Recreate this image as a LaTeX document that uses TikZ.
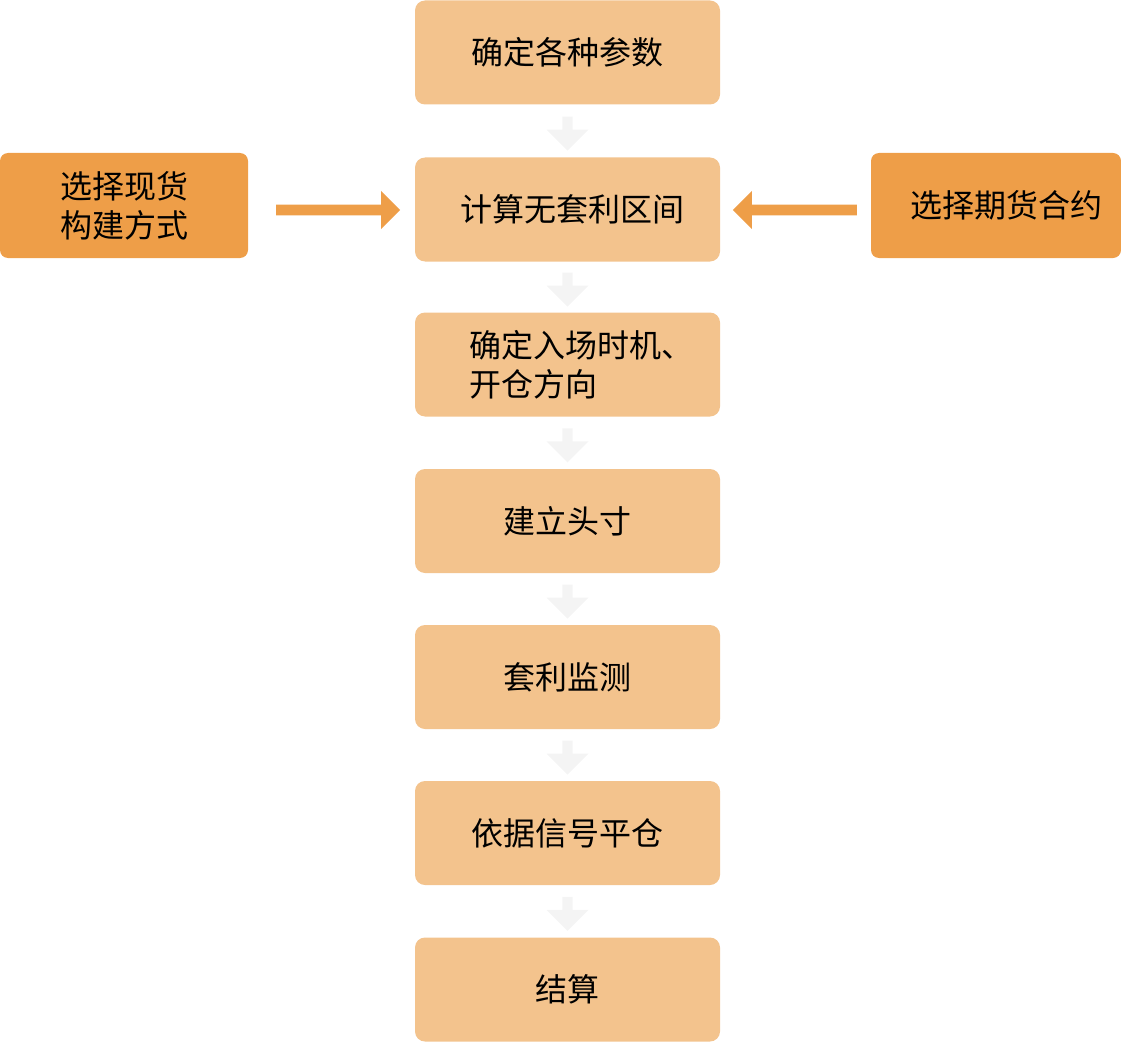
\documentclass[tikz,border=0pt]{standalone}
\usepackage{fontspec}
\newfontfamily\cjk{Noto Sans CJK SC}
\usetikzlibrary{shapes.arrows}
\definecolor{boxc}{HTML}{F3C38D}
\definecolor{sidec}{HTML}{EE9E48}
\definecolor{dnc}{HTML}{F4F4F4}
\begin{document}
\begin{tikzpicture}[x=1pt,y=-1pt,
  mbox/.style={fill=boxc,rounded corners=10pt,draw=none,minimum width=305pt,minimum height=104pt,font=\cjk\fontsize{32}{39}\selectfont,align=left},
  sbox/.style={fill=sidec,rounded corners=8pt,draw=none,minimum height=105pt,font=\cjk\fontsize{32}{39}\selectfont,align=left},
  dn/.style={fill=dnc,single arrow,draw=none,shape border rotate=270,minimum height=34pt,minimum width=42pt,single arrow head extend=10pt,inner sep=3pt},
  sa/.style={fill=sidec,single arrow,draw=none,minimum height=124pt,minimum width=38pt,single arrow head extend=11pt,inner sep=4pt}]
\useasboundingbox (0,0) rectangle (1121,1043);
\node[mbox] (b1) at (567.5,52.5) {确定各种参数};
\node[mbox] (b2) at (567.5,209.5) {\hspace*{10pt}计算无套利区间};
\node[mbox,text width=270pt,inner sep=0pt] (b3) at (567.5,364.5) {\hspace*{37pt}确定入场时机、\\\hspace*{37pt}开仓方向};
\node[mbox] (b4) at (567.5,521) {建立头寸};
\node[mbox] (b5) at (567.5,677) {套利监测};
\node[mbox] (b6) at (567.5,833) {依据信号平仓};
\node[mbox] (b7) at (567.5,989.5) {结算};
\node[sbox,minimum width=248pt] (l) at (124,205.5) {选择现货\\构建方式};
\node[sbox,minimum width=250pt] (r) at (996,205.5) {\hspace*{20pt}选择期货合约};
\foreach \a/\b in {b1/b2,b2/b3,b3/b4,b4/b5,b5/b6,b6/b7}
  \path (\a.south) -- (\b.north) node[midway,dn] {};
\node[sa] (la) at (335.5,210) {};
\node[sa,shape border rotate=180] (ra) at (797.5,210) {};
\end{tikzpicture}
\end{document}
